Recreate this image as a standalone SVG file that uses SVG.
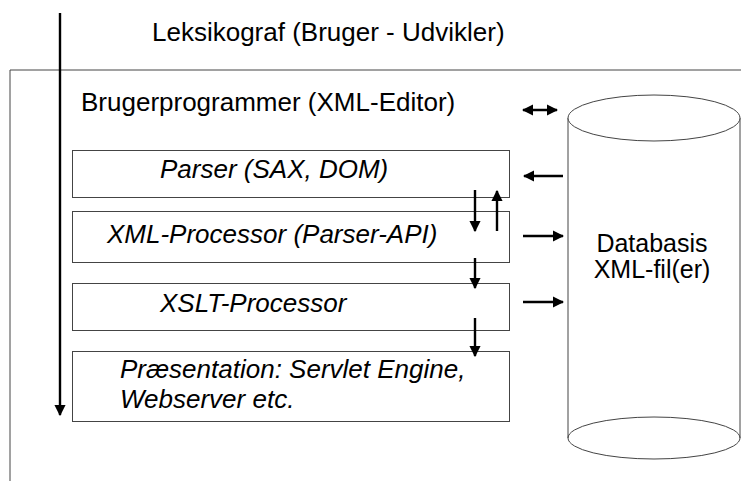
<svg xmlns="http://www.w3.org/2000/svg" width="741" height="481" viewBox="0 0 741 481">
<style>
text{font-family:"Liberation Sans",Arial,sans-serif;font-size:26px;fill:#000}
.it{font-style:italic}
.db{font-size:25px}
.box{fill:#fff;stroke:#444;stroke-width:1}
.ln{stroke:#000;stroke-width:2.4;fill:none}
.frame{stroke:#444;stroke-width:1;fill:none}
</style>
<defs>
<marker id="ah" viewBox="0 0 10 10" refX="9" refY="5" markerWidth="4.8" markerHeight="4.8" orient="auto-start-reverse" markerUnits="strokeWidth"><path d="M0,0 L10,5 L0,10 z" fill="#000"/></marker>
</defs>
<rect width="741" height="481" fill="#fff"/>
<g id="frame">
<path class="frame" d="M10,481 V70 H741"/>
</g>
<g id="title"><text x="152" y="41">Leksikograf (Bruger - Udvikler)</text></g>
<g id="brugerprogrammer"><text x="81" y="111">Brugerprogrammer (XML-Editor)</text></g>
<g id="parser"><rect class="box" x="72.5" y="150.5" width="437" height="47"/><text class="it" x="160" y="178">Parser (SAX, DOM)</text></g>
<g id="xmlprocessor"><rect class="box" x="72.5" y="211.5" width="437" height="51"/><text class="it" x="107" y="243">XML-Processor (Parser-API)</text></g>
<g id="xslt"><rect class="box" x="72.5" y="283.5" width="437" height="47"/><text class="it" x="160" y="312">XSLT-Processor</text></g>
<g id="presentation"><rect class="box" x="72.5" y="351.5" width="437" height="70"/><text class="it" x="120" y="378">Præsentation: Servlet Engine,</text><text class="it" x="120" y="408">Webserver etc.</text></g>
<g id="database">
<path class="frame" fill="#fff" d="M568,118 V438 A86,21 0 0 0 740,438 V118"/>
<ellipse cx="654" cy="118" rx="86" ry="23" fill="#fff" stroke="#444"/>
<path class="frame" d="M568,438 A86,21 0 0 1 740,438"/>
<text class="db" x="652" y="252" text-anchor="middle">Databasis</text>
<text class="db" x="652" y="278" text-anchor="middle">XML-fil(er)</text>
</g>
<g id="connectors">
<line class="ln" x1="60" y1="13" x2="60" y2="415" marker-end="url(#ah)"/>
<line class="ln" x1="523" y1="110" x2="557" y2="110" marker-start="url(#ah)" marker-end="url(#ah)"/>
<line class="ln" x1="563" y1="176" x2="524" y2="176" marker-end="url(#ah)"/>
<line class="ln" x1="523" y1="236" x2="563" y2="236" marker-end="url(#ah)"/>
<line class="ln" x1="523" y1="302" x2="563" y2="302" marker-end="url(#ah)"/>
<line class="ln" x1="475" y1="190" x2="475" y2="231" marker-end="url(#ah)"/>
<line class="ln" x1="497" y1="231" x2="497" y2="191" marker-end="url(#ah)"/>
<line class="ln" x1="475" y1="258" x2="475" y2="288" marker-end="url(#ah)"/>
<line class="ln" x1="475" y1="318" x2="475" y2="356" marker-end="url(#ah)"/>
</g>
</svg>
